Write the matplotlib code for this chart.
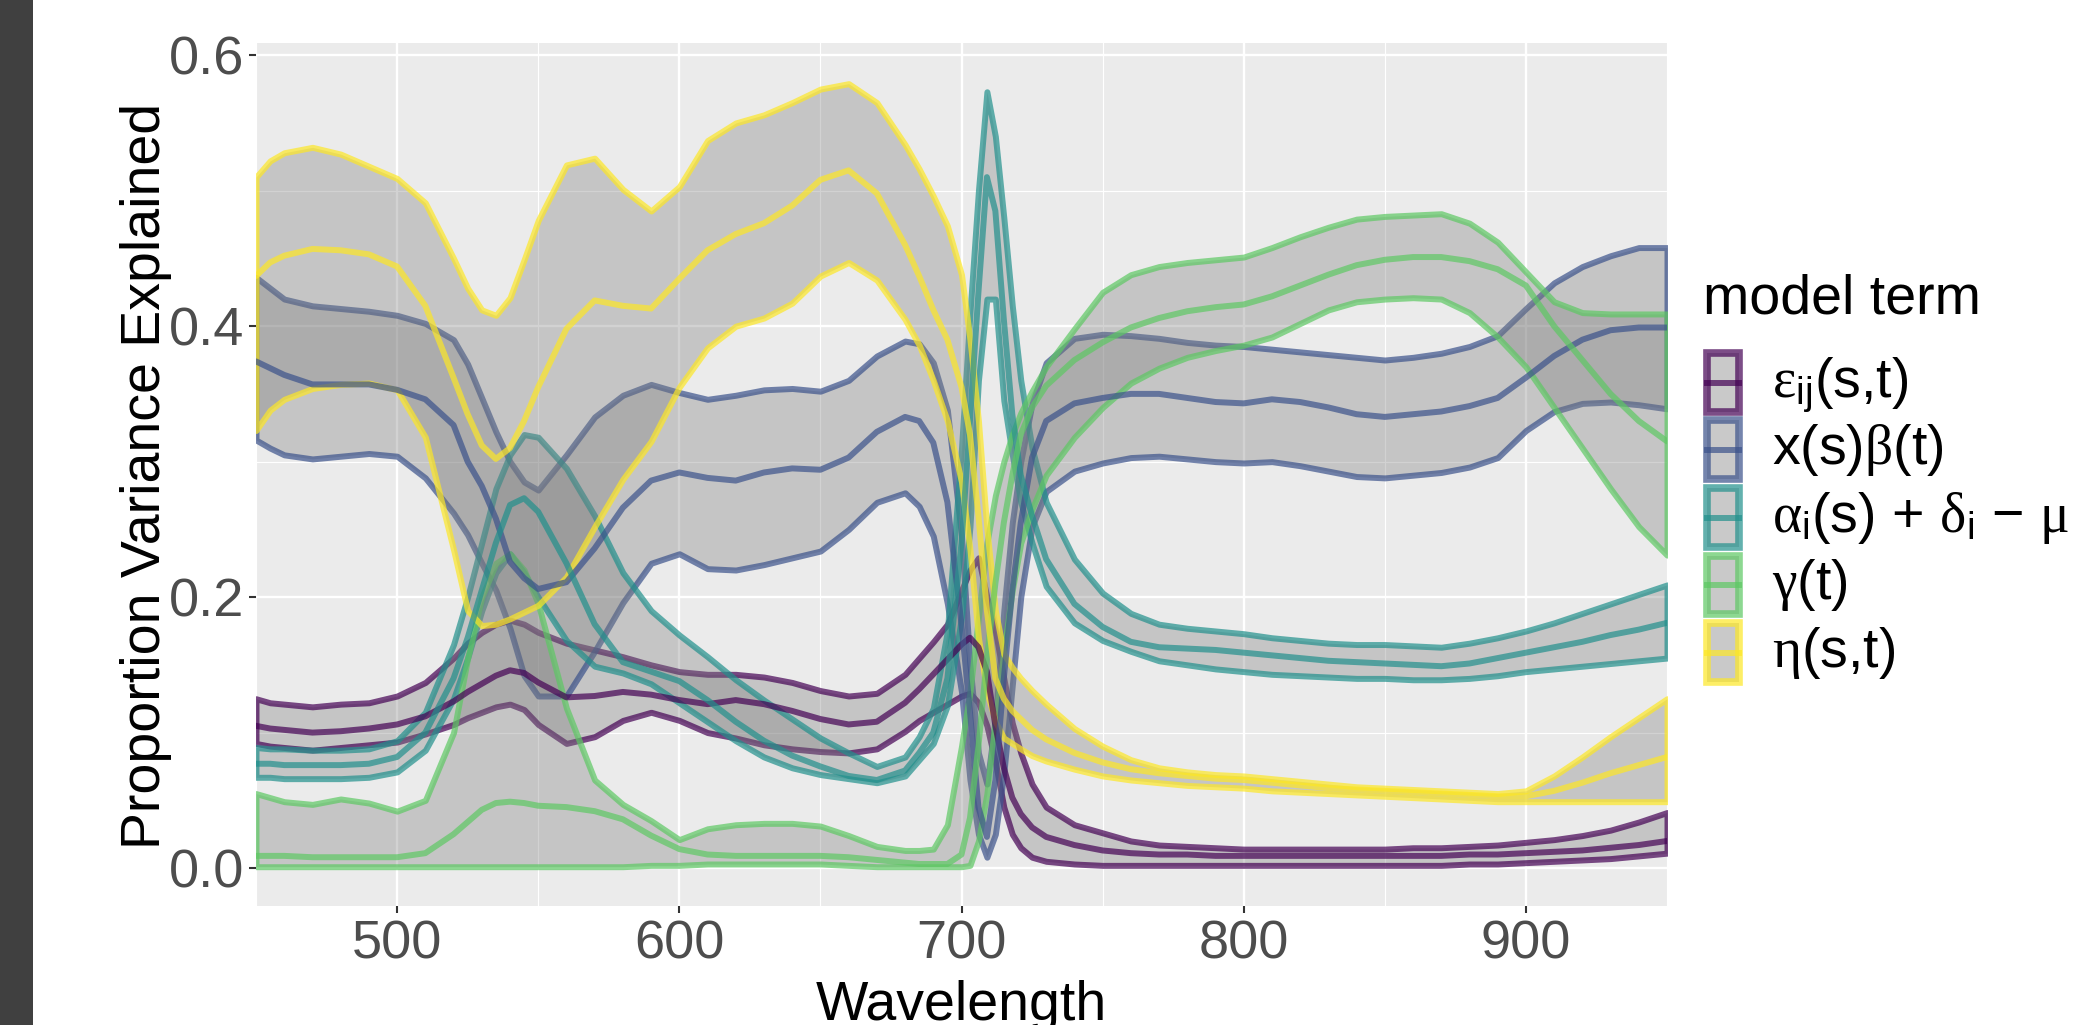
import matplotlib
matplotlib.use("Agg")
import matplotlib.pyplot as plt
from matplotlib import font_manager
from matplotlib.colors import to_rgba
from matplotlib.patches import Rectangle
from matplotlib.lines import Line2D
from matplotlib.ticker import MultipleLocator

# ---- data (proportion of variance explained) ----
wavelength = [450, 455, 460, 470, 480, 490, 500, 510, 520, 525, 530, 535, 540, 545, 550,
              560, 570, 580, 590, 600, 610, 620, 630, 640, 650, 660, 670, 680,
              685, 690, 695, 700, 703, 706, 709, 712, 715, 718, 721, 725, 730,
              740, 750, 760, 770, 780, 790, 800, 810, 820, 830, 840, 850, 860, 870,
              880, 890, 900, 910, 920, 930, 940, 950]

eps_hi = [.125, .122, .121, .119, .121, .122, .127, .137, .155, .166, .174, .180, .183, .180, .174,
          .166, .161, .156, .150, .145, .143, .143, .141, .137, .131, .127, .129, .143,
          .155, .167, .180, .205, .220, .229, .200, .175, .140, .107, .085, .062, .045,
          .032, .026, .020, .017, .016, .015, .014, .014, .014, .014, .014, .014, .015, .015,
          .016, .017, .019, .021, .024, .028, .034, .041]
eps_mid = [.105, .103, .102, .100, .101, .103, .106, .112, .123, .130, .136, .142, .146, .144, .137,
           .126, .127, .130, .128, .124, .121, .124, .121, .116, .110, .106, .108, .122,
           .132, .143, .154, .165, .170, .163, .145, .105, .074, .052, .040, .030, .023,
           .017, .013, .011, .010, .010, .009, .009, .009, .009, .009, .009, .009, .009, .009,
           .010, .010, .011, .012, .013, .015, .017, .020]
eps_lo = [.092, .090, .089, .087, .089, .091, .093, .099, .106, .111, .115, .119, .121, .117, .106,
          .092, .097, .109, .115, .109, .100, .096, .091, .088, .086, .085, .088, .101,
          .109, .115, .121, .127, .129, .122, .105, .078, .045, .025, .015, .008, .005,
          .003, .002, .002, .002, .002, .002, .002, .002, .002, .002, .002, .002, .002, .002,
          .003, .003, .004, .005, .006, .007, .009, .011]

beta_hi = [.436, .428, .420, .415, .413, .411, .408, .402, .390, .372, .347, .322, .300, .285, .279,
           .305, .333, .349, .357, .351, .346, .349, .353, .354, .352, .360, .378, .389,
           .387, .373, .338, .245, .150, .085, .062, .110, .190, .255, .300, .343, .373,
           .391, .394, .393, .391, .388, .386, .385, .383, .381, .379, .377, .375, .377, .380,
           .385, .393, .413, .432, .444, .452, .458, .458]
beta_mid = [.374, .369, .364, .357, .357, .357, .353, .346, .327, .300, .282, .258, .226, .214, .206,
            .211, .236, .266, .286, .292, .288, .286, .292, .295, .294, .303, .322, .333,
            .330, .314, .270, .180, .115, .045, .023, .065, .140, .205, .255, .303, .330,
            .343, .347, .350, .350, .347, .344, .343, .346, .344, .340, .335, .333, .335, .337,
            .341, .347, .362, .378, .390, .397, .399, .399]
beta_lo = [.316, .310, .305, .302, .304, .306, .304, .288, .262, .246, .225, .205, .177, .142, .127,
           .127, .160, .196, .225, .232, .221, .220, .224, .229, .234, .250, .270, .277,
           .267, .245, .195, .130, .065, .025, .008, .025, .070, .135, .200, .252, .278,
           .293, .299, .303, .304, .302, .300, .299, .300, .297, .293, .289, .288, .290, .292,
           .296, .303, .323, .337, .343, .344, .342, .339]

alpha_hi = [.089, .088, .088, .087, .087, .088, .094, .115, .165, .200, .240, .280, .305, .320, .318,
            .295, .260, .218, .190, .172, .156, .139, .124, .110, .096, .085, .075, .082,
            .097, .118, .175, .310, .410, .500, .573, .540, .480, .415, .360, .310, .270,
            .228, .203, .188, .180, .177, .175, .173, .170, .168, .166, .165, .165, .164, .163,
            .166, .170, .175, .181, .188, .195, .202, .209]
alpha_mid = [.077, .077, .076, .076, .076, .077, .082, .100, .140, .170, .205, .240, .268, .273, .263,
             .225, .180, .152, .145, .138, .124, .108, .094, .083, .075, .068, .065, .072,
             .085, .100, .140, .240, .330, .425, .510, .485, .405, .335, .290, .260, .228,
             .195, .178, .167, .163, .162, .161, .159, .157, .155, .153, .152, .151, .150, .149,
             .151, .155, .159, .163, .167, .172, .176, .181]
alpha_lo = [.067, .067, .066, .066, .066, .067, .071, .087, .125, .155, .190, .218, .232, .218, .200,
            .168, .149, .144, .136, .122, .108, .094, .082, .074, .069, .066, .063, .068,
            .080, .092, .120, .185, .252, .360, .420, .420, .345, .305, .270, .240, .208,
            .181, .168, .160, .153, .150, .147, .145, .143, .142, .141, .140, .140, .139, .139,
            .140, .142, .145, .147, .149, .151, .153, .155]

gamma_hi = [.055, .052, .049, .047, .051, .048, .042, .050, .100, .155, .200, .225, .232, .220, .195,
            .118, .065, .047, .035, .021, .029, .032, .033, .033, .031, .024, .016, .013,
            .013, .014, .032, .090, .130, .185, .240, .275, .300, .320, .336, .352, .370,
            .398, .425, .438, .444, .447, .449, .451, .458, .466, .473, .479, .481, .482, .483,
            .476, .462, .440, .418, .410, .409, .409, .409]
gamma_mid = [.009, .009, .009, .008, .008, .008, .008, .011, .025, .034, .043, .048, .049, .048, .046,
             .045, .042, .036, .024, .014, .010, .009, .009, .009, .009, .008, .006, .004,
             .003, .003, .003, .010, .037, .090, .155, .210, .255, .290, .320, .340, .356,
             .375, .388, .399, .406, .411, .414, .416, .422, .430, .438, .445, .449, .451, .451,
             .448, .442, .430, .400, .375, .350, .330, .315]
gamma_lo = [.001, .001, .001, .001, .001, .001, .001, .001, .001, .001, .001, .001, .001, .001, .001,
            .001, .001, .001, .002, .002, .003, .003, .003, .003, .003, .002, .001, .001,
            .001, .001, .001, .001, .002, .020, .055, .110, .160, .205, .240, .265, .290,
            .318, .340, .358, .369, .377, .382, .386, .392, .402, .412, .418, .420, .421, .420,
            .410, .392, .370, .340, .310, .280, .252, .231]

eta_hi = [.510, .522, .528, .532, .527, .518, .509, .491, .450, .428, .412, .408, .421, .449, .478,
          .519, .524, .501, .485, .503, .537, .550, .556, .565, .575, .579, .565, .534,
          .516, .496, .474, .438, .390, .330, .250, .190, .158, .148, .140, .131, .121,
          .103, .090, .080, .074, .071, .069, .068, .066, .064, .062, .060, .059, .058, .057,
          .056, .055, .057, .068, .082, .097, .111, .125]
eta_mid = [.437, .447, .452, .457, .456, .453, .444, .415, .362, .335, .312, .302, .310, .330, .355,
           .398, .419, .415, .413, .435, .456, .468, .476, .489, .508, .515, .498, .460,
           .437, .412, .390, .355, .320, .260, .190, .140, .125, .116, .110, .102, .095,
           .085, .078, .073, .070, .068, .066, .065, .063, .061, .059, .058, .057, .056, .055,
           .054, .053, .053, .057, .063, .070, .076, .082]
eta_lo = [.323, .338, .346, .354, .357, .358, .353, .318, .235, .190, .179, .180, .184, .189, .194,
          .215, .252, .287, .315, .355, .384, .400, .406, .417, .437, .447, .434, .405,
          .386, .360, .330, .285, .235, .170, .130, .108, .096, .092, .088, .083, .079,
          .073, .068, .065, .063, .061, .060, .059, .057, .056, .055, .054, .053, .052, .051,
          .050, .049, .049, .049, .049, .049, .049, .049]

term_labels = [r'$\mathrm{\varepsilon}_{\mathsf{ij}}$(s,t)',
               r'x(s)$\mathrm{\beta}$(t)',
               r'$\mathrm{\alpha}_{\mathsf{i}}$(s) + $\mathrm{\delta}_{\mathsf{i}}$ − $\mathrm{\mu}$',
               r'$\mathrm{\gamma}$(t)',
               r'$\mathrm{\eta}$(s,t)']
term_colors = ['#440154', '#3B528B', '#21908C', '#5DC863', '#FDE725']
lows = [eps_lo, beta_lo, alpha_lo, gamma_lo, eta_lo]
mids = [eps_mid, beta_mid, alpha_mid, gamma_mid, eta_mid]
highs = [eps_hi, beta_hi, alpha_hi, gamma_hi, eta_hi]

# ---- style ----
plt.rcParams['font.family'] = ['Liberation Sans', 'DejaVu Sans']
plt.rcParams['mathtext.fontset'] = 'custom'
plt.rcParams['mathtext.rm'] = 'Liberation Serif'
plt.rcParams['mathtext.it'] = 'Liberation Serif:italic'
plt.rcParams['mathtext.sf'] = 'Liberation Sans'

installed = {f.name for f in font_manager.fontManager.ttflist}
if 'Liberation Sans Narrow' in installed:
    ylab_font, ylab_size = 'Liberation Sans Narrow', 49
else:
    ylab_font, ylab_size = 'Liberation Sans', 40

W, H = 2073, 1025
fig = plt.figure(figsize=(W / 100, H / 100), dpi=100, facecolor='white')


def px(x, y):
    return x / W, 1 - y / H


# dark strip on the left edge
fig.add_artist(Rectangle((0, 0), 33 / W, 1, transform=fig.transFigure,
                         facecolor='#404040', edgecolor='none'))

ax = fig.add_axes([256 / W, 1 - 906 / H, (1667 - 256) / W, (906 - 43) / H])
ax.set_facecolor('#EBEBEB')
for s in ax.spines.values():
    s.set_visible(False)

line_w = 4.3
ribbon_fill = to_rgba('#7F7F7F', 0.35)
for lo, hi, c in zip(lows, highs, term_colors):
    ax.fill_between(wavelength, lo, hi, facecolor=ribbon_fill,
                    edgecolor=to_rgba(c, 0.7), linewidth=line_w, joinstyle='round', zorder=2)
for mid, c in zip(mids, term_colors):
    ax.plot(wavelength, mid, color=c, alpha=0.7, lw=line_w,
            solid_joinstyle='round', solid_capstyle='round', zorder=3)

ax.set_xlim(450, 950)
ax.set_ylim(-0.028, 0.609)
ax.set_xticks([500, 600, 700, 800, 900])
ax.set_yticks([0.0, 0.2, 0.4, 0.6])
ax.set_yticklabels(['0.0', '0.2', '0.4', '0.6'])
ax.xaxis.set_minor_locator(MultipleLocator(50))
ax.yaxis.set_minor_locator(MultipleLocator(0.1))
ax.set_axisbelow(True)
ax.grid(which='major', color='white', lw=1.7)
ax.grid(which='minor', color='white', lw=0.85)
ax.tick_params(which='major', length=5, width=1.5, color='#333333',
               labelsize=39, labelcolor='#4D4D4D')
ax.tick_params(axis='y', pad=3.6)
ax.tick_params(axis='x', pad=5)
ax.tick_params(which='minor', length=0)

# x title sits partly below the canvas edge, as in the reference
fig.text(*px(961, 1020), 'Wavelength', fontsize=40, color='black',
         ha='center', va='baseline')
fig.text(*px(160, 476), 'Proportion Variance Explained', fontsize=ylab_size,
         family=ylab_font, color='black', rotation=90, rotation_mode='anchor',
         ha='center', va='baseline')

# ---- legend ----
fig.text(*px(1703, 313), 'model term', fontsize=40, ha='left', va='baseline')
row_top, pitch = 349, 67.5
for i, (lab, c) in enumerate(zip(term_labels, term_colors)):
    top = row_top + i * pitch
    cy = top + pitch / 2
    x0, y0 = px(1706.5, top + pitch - 5)
    x1, y1 = px(1738.5, top + 4)
    fig.add_artist(Rectangle((x0, y0), x1 - x0, y1 - y0, transform=fig.transFigure,
                             facecolor='#F2F2F2', edgecolor='none'))
    fig.add_artist(Rectangle((x0, y0), x1 - x0, y1 - y0, transform=fig.transFigure,
                             facecolor=ribbon_fill, edgecolor=to_rgba(c, 0.7), lw=5.5))
    fig.add_artist(Line2D([x0, x1], [px(0, cy)[1]] * 2, transform=fig.transFigure,
                          color=c, alpha=0.7, lw=line_w))
    fig.text(*px(1772, cy + 14), lab, fontsize=40, ha='left', va='baseline')

fig.savefig('out.png', dpi=100, facecolor='white')
